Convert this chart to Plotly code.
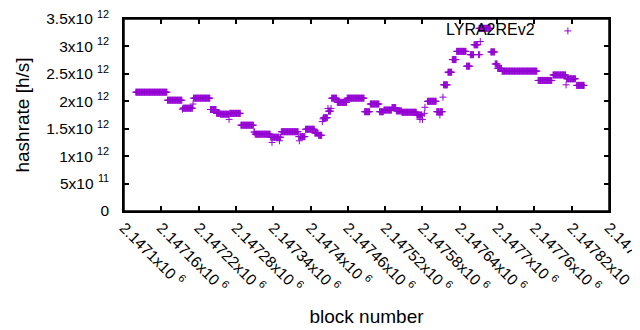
import numpy as np
import plotly.graph_objects as go

# Run-length data: first block, last block, hashrate (h/s)
seg_first = [2147119, 2147170, 2147194, 2147195, 2147211, 2147212, 2147239, 2147249, 2147255, 2147269,
             2147270, 2147288, 2147309, 2147311, 2147336, 2147338, 2147339, 2147350, 2147351, 2147353,
             2147381, 2147382, 2147383, 2147392, 2147407, 2147413, 2147419, 2147420, 2147421, 2147428,
             2147429, 2147433, 2147434, 2147443, 2147459, 2147487, 2147496, 2147511, 2147518, 2147531,
             2147538, 2147547, 2147571, 2147576, 2147577, 2147580, 2147583, 2147584, 2147588, 2147603,
             2147608, 2147609, 2147613, 2147614, 2147621, 2147628, 2147635, 2147651, 2147657, 2147663,
             2147670, 2147671, 2147672, 2147673, 2147690, 2147697, 2147701, 2147708, 2147766, 2147790,
             2147811, 2147812, 2147828]
seg_last = [2147169, 2147193, 2147194, 2147210, 2147211, 2147238, 2147248, 2147254, 2147268, 2147269,
            2147287, 2147308, 2147310, 2147335, 2147337, 2147338, 2147349, 2147350, 2147352, 2147380,
            2147381, 2147382, 2147391, 2147406, 2147412, 2147418, 2147419, 2147420, 2147427, 2147428,
            2147432, 2147433, 2147442, 2147458, 2147486, 2147495, 2147510, 2147517, 2147530, 2147537,
            2147546, 2147570, 2147575, 2147576, 2147579, 2147580, 2147583, 2147584, 2147602, 2147607,
            2147608, 2147612, 2147613, 2147620, 2147627, 2147634, 2147650, 2147656, 2147662, 2147669,
            2147670, 2147689, 2147672, 2147673, 2147696, 2147700, 2147707, 2147764, 2147788, 2147810,
            2147811, 2147826, 2147840]
seg_rate = [2.166e12, 2.02e12, 1.855e12, 1.874e12, 1.95e12, 2.057e12, 1.85e12, 1.78e12, 1.765e12, 1.67e12,
            1.78e12, 1.564e12, 1.44e12, 1.40e12, 1.345e12, 1.25e12, 1.345e12, 1.28e12, 1.345e12, 1.445e12,
            1.356e12, 1.28e12, 1.356e12, 1.49e12, 1.42e12, 1.38e12, 1.63e12, 1.68e12, 1.70e12, 1.87e12,
            1.82e12, 1.87e12, 2.057e12, 1.98e12, 2.057e12, 1.81e12, 1.95e12, 1.81e12, 1.84e12, 1.885e12,
            1.825e12, 1.80e12, 1.75e12, 1.67e12, 1.75e12, 1.67e12, 1.78e12, 1.89e12, 2.0e12, 1.81e12,
            1.75e12, 1.81e12, 2.075e12, 2.30e12, 2.53e12, 2.76e12, 2.91e12, 2.64e12, 2.85e12, 3.03e12,
            2.85e12, 3.33e12, 2.85e12, 3.09e12, 2.90e12, 2.68e12, 2.60e12, 2.55e12, 2.38e12, 2.48e12,
            2.30e12, 2.41e12, 2.29e12]

x_tickvals = [2147100, 2147160, 2147220, 2147280, 2147340, 2147400, 2147460,
              2147520, 2147580, 2147640, 2147700, 2147760, 2147820, 2147880]
x_ticktext = ["2.1471x10 <sup>6</sup>", "2.14716x10 <sup>6</sup>", "2.14722x10 <sup>6</sup>",
              "2.14728x10 <sup>6</sup>", "2.14734x10 <sup>6</sup>", "2.1474x10 <sup>6</sup>",
              "2.14746x10 <sup>6</sup>", "2.14752x10 <sup>6</sup>", "2.14758x10 <sup>6</sup>",
              "2.14764x10 <sup>6</sup>", "2.1477x10 <sup>6</sup>", "2.14776x10 <sup>6</sup>",
              "2.14782x10 <sup>6</sup>", "2.14788x10 <sup>6</sup>"]
y_tickvals = [0, 0.5e12, 1e12, 1.5e12, 2e12, 2.5e12, 3e12, 3.5e12]
y_ticktext = ["0", "5x10 <sup>11</sup>", "1x10 <sup>12</sup>", "1.5x10 <sup>12</sup>",
              "2x10 <sup>12</sup>", "2.5x10 <sup>12</sup>", "3x10 <sup>12</sup>", "3.5x10 <sup>12</sup>"]

blocks = []
rates = []
for a, b, r in zip(seg_first, seg_last, seg_rate):
    for blk in range(a, b + 1):
        blocks.append(blk)
        rates.append(r)

COLOR = "#9400D3"
FONT = "Liberation Sans, Arial, sans-serif"

fig = go.Figure()
fig.add_trace(go.Scatter(
    x=blocks, y=rates, mode="markers", name=" ",
    marker=dict(symbol="cross-thin", size=5, color=COLOR,
                line=dict(color=COLOR, width=1)),
    showlegend=True,
))

# page body has an 8px default margin: paper is 632x322 placed at (8, 8)
fig.update_layout(
    width=632, height=322,
    margin=dict(l=116, r=31, t=11, b=119, autoexpand=False),
    paper_bgcolor="white", plot_bgcolor="white",
    font=dict(family=FONT, size=15.5, color="black"),
    showlegend=True,
    legend=dict(x=0.874, y=1.026, xanchor="left", yanchor="top",
                bgcolor="rgba(0,0,0,0)", font=dict(size=16),
                itemwidth=30),
    annotations=[dict(text="LYRA2REv2", xref="paper", yref="paper",
                      x=0.851, y=0.945, xanchor="right", yanchor="middle",
                      showarrow=False, font=dict(size=16, color="black"))],
    shapes=[dict(type="rect", xref="paper", yref="paper", x0=0, y0=0, x1=1, y1=1,
                 line=dict(color="black", width=1.5), fillcolor="rgba(0,0,0,0)", layer="above")],
)
fig.update_xaxes(
    range=[2147100, 2147880], tickmode="array", tickvals=x_tickvals, ticktext=x_ticktext,
    tickangle=45, ticks="inside", ticklen=5, tickcolor="black", tickwidth=1.5,
    showline=True, linecolor="black", linewidth=1.5, mirror="allticks",
    showgrid=False, zeroline=False, automargin=False, ticklabeloverflow="allow",
    title=dict(text="block number", standoff=15),
)
fig.update_yaxes(
    range=[0, 3.5e12], tickmode="array", tickvals=y_tickvals, ticktext=y_ticktext,
    ticks="inside", ticklen=5, tickcolor="black", tickwidth=1.5,
    showline=True, linecolor="black", linewidth=1.5, mirror="allticks",
    showgrid=False, zeroline=False, ticklabelstandoff=10, automargin=False,
    ticklabeloverflow="allow",
    title=dict(text="hashrate [h/s]", standoff=12),
)

fig.write_html("out.html")
